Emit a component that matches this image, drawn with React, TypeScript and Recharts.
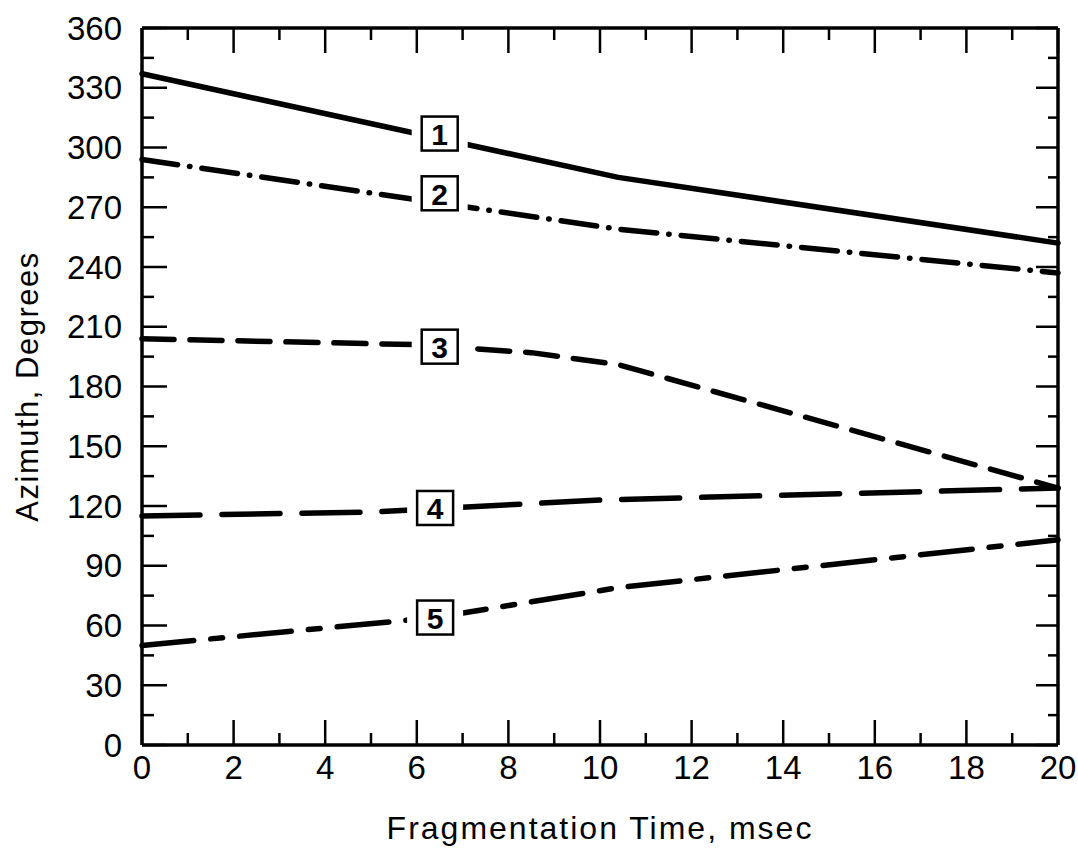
import React from 'react';
import { LineChart, Line, XAxis, YAxis, ReferenceDot, ReferenceLine, Label } from 'recharts';

// fragment azimuth vs fragmentation time, five fragments
const line1Time = [0, 10.4, 20];
const line1Azimuth = [337, 285, 252];

const line2Time = [0, 10.4, 20];
const line2Azimuth = [294, 259, 237];

const line3Time = [0, 6, 8.5, 10.4, 20];
const line3Azimuth = [204, 201, 197, 191, 129];

const line4Time = [0, 5, 10, 20];
const line4Azimuth = [115, 117, 123, 129];

const line5Time = [0, 6.4, 10.4, 20];
const line5Azimuth = [50, 64, 79, 103];

const lineIds = ['1', '2', '3', '4', '5'];
const tagTime = [6.5, 6.5, 6.5, 6.4, 6.4];
const tagAzimuth = [307, 277, 200, 119, 64];

const xTicks = [0, 1, 2, 3, 4, 5, 6, 7, 8, 9, 10, 11, 12, 13, 14, 15, 16, 17, 18, 19, 20];
const yTicks = [
  0, 15, 30, 45, 60, 75, 90, 105, 120, 135, 150, 165, 180, 195, 210, 225, 240, 255, 270, 285,
  300, 315, 330, 345, 360,
];

const FONT = '"Liberation Sans", Arial, Helvetica, sans-serif';
const INK = '#000';

// plot frame
const W = 1078;
const H = 857;
const PLOT_LEFT = 142;
const PLOT_TOP = 28;
const PLOT_RIGHT = 1058;
const PLOT_BOTTOM = 745;
const TICK_W = 2.5;

const toPoints = (ts: number[], vs: number[]) => ts.map((t, i) => ({ t, az: vs[i] }));

const series = [
  { data: toPoints(line1Time, line1Azimuth), dash: undefined },
  { data: toPoints(line2Time, line2Azimuth), dash: '36 12 0.5 12' },
  { data: toPoints(line3Time, line3Azimuth), dash: '32 16' },
  { data: toPoints(line4Time, line4Azimuth), dash: '58 22' },
  { data: toPoints(line5Time, line5Azimuth), dash: '52 17 12 17' },
];

// y ticks point inward from both the left and right frame edges
const YTick = ({ y, payload }: any) => {
  const major = payload.value % 30 === 0;
  return (
    <g>
      <line x1={PLOT_LEFT} x2={PLOT_LEFT + (major ? 25 : 12)} y1={y} y2={y} stroke={INK} strokeWidth={TICK_W} />
      <line x1={PLOT_RIGHT} x2={PLOT_RIGHT - (major ? 22 : 10)} y1={y} y2={y} stroke={INK} strokeWidth={TICK_W} />
      {major && (
        <text
          x={PLOT_LEFT - 20}
          y={y}
          textAnchor="end"
          dominantBaseline="central"
          fontFamily={FONT}
          fontSize={33}
          fill={INK}
        >
          {payload.value}
        </text>
      )}
    </g>
  );
};

// x ticks point inward from both the bottom and top frame edges
const XTick = ({ x, payload }: any) => {
  const major = payload.value % 2 === 0;
  return (
    <g>
      <line x1={x} x2={x} y1={PLOT_BOTTOM} y2={PLOT_BOTTOM - (major ? 25 : 12)} stroke={INK} strokeWidth={TICK_W} />
      <line x1={x} x2={x} y1={PLOT_TOP} y2={PLOT_TOP + (major ? 25 : 12)} stroke={INK} strokeWidth={TICK_W} />
      {major && (
        <text x={x} y={PLOT_BOTTOM + 34} textAnchor="middle" fontFamily={FONT} fontSize={33} fill={INK}>
          {payload.value}
        </text>
      )}
    </g>
  );
};

const TagBox = (id: string) => (props: any) => {
  const { cx, cy } = props;
  return (
    <g>
      <rect x={cx - 28} y={cy - 23} width={56} height={46} fill="#fff" />
      <rect x={cx - 18} y={cy - 17} width={36} height={34} fill="#fff" stroke={INK} strokeWidth={2.5} />
      <text
        x={cx}
        y={cy + 1}
        textAnchor="middle"
        dominantBaseline="central"
        fontFamily={FONT}
        fontWeight="bold"
        fontSize={30}
        fill={INK}
      >
        {id}
      </text>
    </g>
  );
};

const YTitle = ({ viewBox }: any) => {
  const cx = 27;
  const cy = viewBox.y + viewBox.height / 2;
  return (
    <text
      x={cx}
      y={cy}
      transform={`rotate(-90 ${cx} ${cy})`}
      textAnchor="middle"
      dominantBaseline="central"
      fontFamily={FONT}
      fontSize={31}
      letterSpacing={1.5}
      fill={INK}
    >
      Azimuth, Degrees
    </text>
  );
};

export default function App() {
  return (
    <div style={{ width: W, height: H, background: '#fff' }}>
      <style>{'body{margin:0}'}</style>
      <LineChart
        width={W}
        height={H}
        margin={{ top: PLOT_TOP, right: W - PLOT_RIGHT, bottom: 0, left: 0 }}
      >
        <XAxis
          dataKey="t"
          type="number"
          domain={[0, 20]}
          ticks={xTicks}
          interval={0}
          height={H - PLOT_BOTTOM}
          tickLine={false}
          tick={<XTick />}
          axisLine={{ stroke: INK, strokeWidth: 3.5 }}
        >
          <Label
            value="Fragmentation Time, msec"
            position="insideBottom"
            offset={18}
            fontFamily={FONT}
            fontSize={32}
            letterSpacing={2}
            fill={INK}
          />
        </XAxis>
        <YAxis
          type="number"
          domain={[0, 360]}
          ticks={yTicks}
          interval={0}
          width={PLOT_LEFT}
          tickLine={false}
          tick={<YTick />}
          axisLine={{ stroke: INK, strokeWidth: 3.5 }}
        >
          <Label content={<YTitle />} />
        </YAxis>
        <ReferenceLine y={360} stroke={INK} strokeWidth={3.5} />
        <ReferenceLine x={20} stroke={INK} strokeWidth={3.5} />
        {series.map((s, i) => (
          <Line
            key={`line-${i}`}
            data={s.data}
            dataKey="az"
            type="linear"
            stroke={INK}
            strokeWidth={5.5}
            strokeDasharray={s.dash}
            strokeLinecap="round"
            strokeLinejoin="round"
            dot={false}
            activeDot={false}
            isAnimationActive={false}
          />
        ))}
        {lineIds.map((id, i) => (
          <ReferenceDot key={`tag-${id}`} x={tagTime[i]} y={tagAzimuth[i]} shape={TagBox(id)} />
        ))}
      </LineChart>
    </div>
  );
}
